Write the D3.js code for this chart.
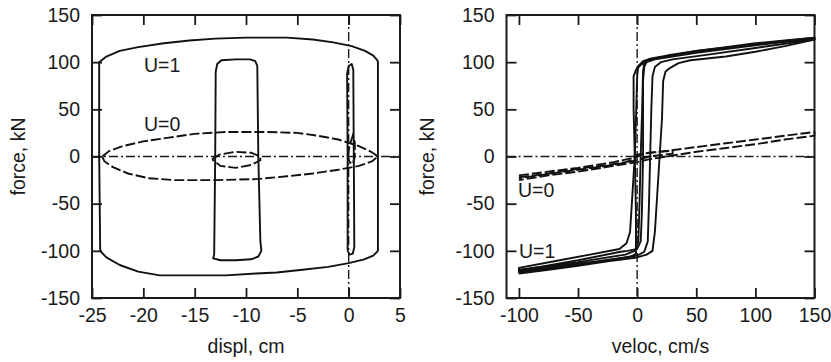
<!DOCTYPE html>
<html><head><meta charset="utf-8">
<script src="https://cdn.jsdelivr.net/npm/d3@7"></script>
<style>
html,body{margin:0;padding:0;background:#fff;}
svg{display:block;}
text{font-family:"Liberation Sans",Arial,sans-serif;fill:#1a1a1a;}
</style></head>
<body>
<svg id="chart" width="831" height="362"></svg>
<script>
// ---------- tick labels ----------
const displTicks = [-25, -20, -15, -10, -5, 0, 5];
const velocTicks = [-100, -50, 0, 50, 100, 150];
const forceTicks = [-150, -100, -50, 0, 50, 100, 150];

// ---------- left panel: force vs displacement [displ cm, force kN] ----------
const displU1Outer = [[-24.2,-100],[-24.3,0],[-24.3,100],[-23.6,106],[-22.3,112],[-20.5,116],[-18,120],[-15.5,123],[-13,125],[-10,126],[-6,126],[-3.5,124],[-1.5,121],[0.3,117],[1.6,112],[2.4,107],[2.8,102],[2.85,100],[2.85,0],[2.85,-100],[2.4,-105],[1.5,-109],[0,-113],[-2,-117],[-4.5,-120],[-7,-123],[-9,-124],[-12,-126],[-18.4,-126],[-20.5,-122],[-22.3,-115],[-23.6,-107],[-24.2,-100]];
const displU1Inner = [[-13.1,-104],[-13.0,0],[-12.95,90],[-12.8,98],[-12.4,102],[-11,103],[-9.6,103],[-9.1,101],[-8.9,96],[-8.8,0],[-8.6,-90],[-8.5,-100],[-8.8,-106],[-9.5,-109],[-11,-110],[-12.5,-110],[-13.2,-108],[-13.1,-104]];
const displU1Narrow = [[-0.1,-100],[-0.1,0],[-0.15,88],[0.0,96],[0.3,98],[0.45,92],[0.5,0],[0.55,-96],[0.4,-103],[0.1,-104],[-0.1,-100]];
const displU0Outer = [[-24.0,0],[-23.3,6],[-22,11],[-20,16],[-17.5,20],[-15,24],[-12,26],[-8,26],[-5,25],[-3,22],[-1,18],[1,11],[2.2,5],[2.85,0],[2.3,-5],[1,-10],[-1,-14],[-3.5,-18],[-6,-21],[-9,-24],[-13,-25],[-17,-25],[-19.5,-23],[-21.5,-18],[-23,-11],[-23.8,-5],[-24.0,0]];
const displU0Inner = [[-13.3,-3],[-12.6,2],[-11,5],[-9.5,4],[-8.6,0],[-8.6,-4],[-9.5,-9],[-11,-12],[-12.5,-10],[-13.3,-3]];
const displU0Narrow = [[-0.1,0],[0.1,12],[0.4,22],[0.6,15],[0.6,0],[0.4,-8],[0.1,-6],[-0.1,0]];

// ---------- right panel: force vs velocity [veloc cm/s, force kN] ----------
const velocU1A = [[-100,-124],[-75,-120],[-50,-116],[-25,-111],[0,-107],[8,-104],[13,-100],[15,-80],[17,-40],[19,0],[21,40],[22,80],[24,90],[28,94],[35,99],[45,102],[75,106],[100,111],[125,117],[150,124],[150,126],[125,123],[100,120],[75,116],[50,112],[25,107],[12,104],[5,101],[1,96],[0,85],[-1,40],[-2,0],[-4,-40],[-6,-80],[-9,-92],[-15,-98],[-40,-104],[-70,-111],[-100,-118],[-100,-124]];
const velocU1B = [[-100,-122],[-50,-114],[-10,-107],[0,-105],[6,-101],[9,-90],[10,-50],[11,0],[12,50],[13,85],[15,95],[20,100],[30,103],[60,108],[100,115],[150,124],[150,125],[100,119],[50,111],[20,105],[10,103],[6,99],[5,90],[4,40],[3,0],[2,-50],[1,-90],[-2,-100],[-10,-104],[-50,-112],[-100,-120]];
const velocU1C = [[-100,-123],[-50,-115],[-15,-108],[-5,-106],[-1,-103],[-1,-60],[-2,0],[-3,50],[-3,85],[-1,92],[3,97],[8,101],[15,104],[50,112],[100,119],[150,126],[150,125],[100,118],[50,110],[15,103],[8,100],[6,95],[5,80],[5,0],[4,-60],[3,-90],[0,-98],[-8,-100],[-14,-101],[-50,-110],[-100,-121]];
const velocU0A = [[-100,-22],[-75,-18],[-50,-13],[-25,-9],[-10,-6],[-3,-3],[0,0],[5,3],[25,6],[50,10],[75,14],[100,18],[125,22],[150,26],[150,22],[125,18],[100,13],[75,9],[50,5],[30,1],[20,-1],[10,-3],[0,-6],[-25,-11],[-50,-16],[-75,-20],[-100,-25]];
const velocU0B = [[-100,-20],[-50,-12],[-20,-6],[-5,-2],[0,2],[10,4],[30,6],[30,3],[10,0],[0,-4],[-20,-9],[-50,-14],[-100,-23]];

const svg = d3.select("#chart");
const FS = 19.5;
const yTop = 15, yBot = 298;

function panel(opts) {
  const g = svg.append("g");
  const x = d3.scaleLinear().domain(opts.xDomain).range(opts.xRange);
  const y = d3.scaleLinear().domain([-150, 150]).range([yBot, yTop]);
  const fmt = d => String(d);
  const tk = 10;

  const ax = [
    d3.axisBottom(x).tickValues(opts.xTicks).tickFormat(fmt).tickSizeInner(-tk).tickSizeOuter(0).tickPadding(10),
    d3.axisTop(x).tickValues(opts.xTicks).tickFormat("").tickSizeInner(-tk).tickSizeOuter(0),
    d3.axisLeft(y).tickValues(forceTicks).tickFormat(fmt).tickSizeInner(-tk).tickSizeOuter(0).tickPadding(12),
    d3.axisRight(y).tickValues(forceTicks).tickFormat("").tickSizeInner(-tk).tickSizeOuter(0)
  ];
  const pos = [`translate(0,${yBot})`, `translate(0,${yTop})`, `translate(${opts.xRange[0]},0)`, `translate(${opts.xRange[1]},0)`];
  ax.forEach((a, i) => {
    const ag = g.append("g").attr("transform", pos[i]).call(a);
    ag.select(".domain").remove();
    ag.selectAll("line").attr("stroke", "#1a1a1a").attr("stroke-width", 1.8);
    ag.selectAll("text").style("font-size", FS + "px").attr("fill", "#1a1a1a")
      .style("font-family", '"Liberation Sans",Arial,sans-serif');
  });

  g.append("line").attr("x1", opts.xRange[0]).attr("x2", opts.xRange[1]).attr("y1", y(0)).attr("y2", y(0))
    .attr("stroke", "#1a1a1a").attr("stroke-width", 1.4).attr("stroke-dasharray", "9,3,2,3");
  g.append("line").attr("x1", x(0)).attr("x2", x(0)).attr("y1", yTop).attr("y2", yBot)
    .attr("stroke", "#1a1a1a").attr("stroke-width", 1.4).attr("stroke-dasharray", "9,3,2,3");

  const line = d3.line().x(d => x(d[0])).y(d => y(d[1]));
  opts.solid.forEach(s => g.append("path").attr("d", line(s)).attr("fill", "none")
    .attr("stroke", "#111").attr("stroke-width", 1.9).attr("stroke-linejoin", "round"));
  opts.dashed.forEach(s => g.append("path").attr("d", line(s)).attr("fill", "none")
    .attr("stroke", "#111").attr("stroke-width", 1.9).attr("stroke-dasharray", "10,3"));

  g.append("rect").attr("x", opts.xRange[0]).attr("y", yTop)
    .attr("width", opts.xRange[1] - opts.xRange[0]).attr("height", yBot - yTop)
    .attr("fill", "none").attr("stroke", "#1a1a1a").attr("stroke-width", 2);

  g.append("text").attr("x", (opts.xRange[0] + opts.xRange[1]) / 2).attr("y", 353)
    .attr("text-anchor", "middle").style("font-size", FS + "px").text(opts.xLabel);
  g.append("text").attr("transform", `translate(${opts.yLabelX},${(yTop + yBot) / 2}) rotate(-90)`)
    .attr("text-anchor", "middle").style("font-size", FS + "px").text("force, kN");

  opts.labels.forEach(l => g.append("text").attr("x", l.x).attr("y", l.y)
    .style("font-size", FS + "px").text(l.t));
}

panel({
  xDomain: [-25, 5], xRange: [92, 400], xTicks: displTicks,
  xLabel: "displ, cm", yLabelX: 25,
  solid: [displU1Outer, displU1Inner, displU1Narrow],
  dashed: [displU0Outer, displU0Inner, displU0Narrow],
  labels: [{t: "U=1", x: 144, y: 72}, {t: "U=0", x: 144, y: 131}]
});

panel({
  xDomain: [-110.5, 150], xRange: [506.5, 814.5], xTicks: velocTicks,
  xLabel: "veloc, cm/s", yLabelX: 434,
  solid: [velocU1A, velocU1B, velocU1C],
  dashed: [velocU0A, velocU0B],
  labels: [{t: "U=0", x: 518, y: 197}, {t: "U=1", x: 519, y: 258}]
});
</script>
</body></html>
